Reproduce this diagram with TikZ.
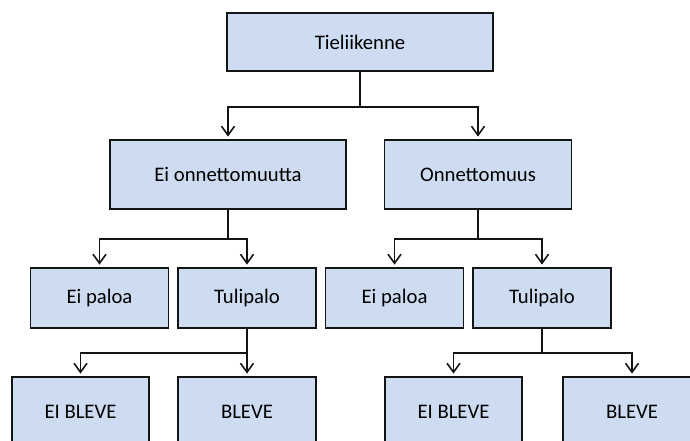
\documentclass[tikz,border=0pt]{standalone}
\usepackage{fontspec}
\setmainfont{Carlito}
\usetikzlibrary{arrows.meta}
\definecolor{boxfill}{RGB}{205,220,240}
\definecolor{boxline}{RGB}{20,20,20}
\tikzset{
  treebox/.style={draw=boxline, fill=boxfill, line width=1.8pt, rectangle,
    inner sep=0pt, minimum height=#1,
    font=\fontsize{20.7}{25}\selectfont},
  treebox/.default=60pt,
  link/.style={draw=boxline, line width=1.8pt,
    -{Straight Barb[length=9pt,width=13pt,line width=1.6pt]}, shorten >=2.5pt}
}
\begin{document}
\begin{tikzpicture}[x=1pt,y=-1pt]
  \useasboundingbox (0,0) rectangle (690,441);
  \clip (0,0) rectangle (690,441);
  % top level
  \node[treebox=58pt, minimum width=266pt] (root) at (360,42) {Tieliikenne};
  % second level
  \node[treebox=69pt, minimum width=236pt] (noacc) at (228,174.5) {Ei onnettomuutta};
  \node[treebox=69pt, minimum width=187pt] (acc) at (478,174.5) {Onnettomuus};
  % third level
  \node[treebox=60pt, minimum width=138pt] (nofireA) at (99.5,298) {Ei paloa};
  \node[treebox=60pt, minimum width=138pt] (fireA) at (247,298) {Tulipalo};
  \node[treebox=60pt, minimum width=138pt] (nofireB) at (394.5,298) {Ei paloa};
  \node[treebox=60pt, minimum width=138pt] (fireB) at (542,298) {Tulipalo};
  % fourth level
  \node[treebox=70pt, minimum width=137pt] (nobleveA) at (80.5,412) {EI BLEVE};
  \node[treebox=70pt, minimum width=138pt] (bleveA) at (247,412) {BLEVE};
  \node[treebox=70pt, minimum width=137pt] (nobleveB) at (453.5,412) {EI BLEVE};
  \node[treebox=70pt, minimum width=138pt] (bleveB) at (632,412) {BLEVE};
  % connectors
  \draw[link] (root.south) -- ++(0,35) -| (noacc.north);
  \draw[link] (root.south) -- ++(0,35) -| (acc.north);
  \draw[link] (noacc.south) -- ++(0,29) -| (nofireA.north);
  \draw[link] (noacc.south) -- ++(0,29) -| (fireA.north);
  \draw[link] (acc.south) -- ++(0,29) -| (nofireB.north);
  \draw[link] (acc.south) -- ++(0,29) -| (fireB.north);
  \draw[link] (fireA.south) -- ++(0,24) -| (nobleveA.north);
  \draw[link] (fireA.south) -- (bleveA.north);
  \draw[link] (fireB.south) -- ++(0,24) -| (nobleveB.north);
  \draw[link] (fireB.south) -- ++(0,24) -| (bleveB.north);
\end{tikzpicture}
\end{document}
